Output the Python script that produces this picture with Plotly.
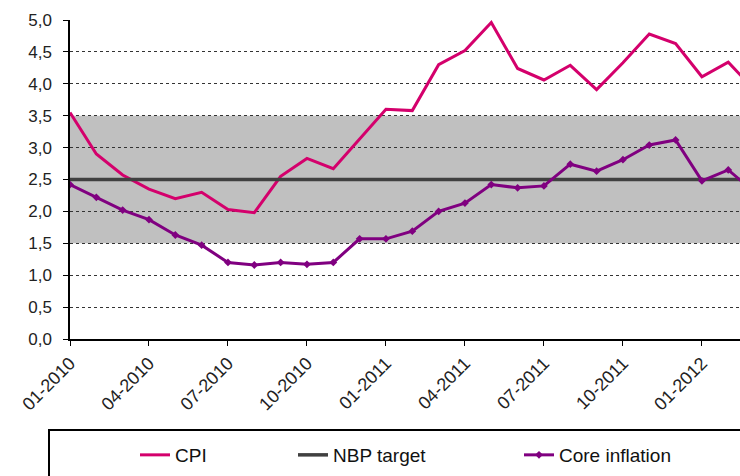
import plotly.graph_objects as go

months = ["01-2010", "02-2010", "03-2010", "04-2010", "05-2010", "06-2010",
          "07-2010", "08-2010", "09-2010", "10-2010", "11-2010", "12-2010",
          "01-2011", "02-2011", "03-2011", "04-2011", "05-2011", "06-2011",
          "07-2011", "08-2011", "09-2011", "10-2011", "11-2011", "12-2011",
          "01-2012", "02-2012", "03-2012"]
cpi = [3.55, 2.9, 2.57, 2.35, 2.2, 2.3, 2.03, 1.98, 2.55, 2.83, 2.67, 3.13,
       3.6, 3.58, 4.3, 4.52, 4.96, 4.24, 4.06, 4.29, 3.91, 4.33, 4.78, 4.63,
       4.11, 4.34, 3.9]
core = [2.42, 2.22, 2.02, 1.87, 1.63, 1.47, 1.2, 1.16, 1.2, 1.17, 1.2, 1.57,
        1.57, 1.69, 2.0, 2.13, 2.42, 2.37, 2.4, 2.74, 2.63, 2.81, 3.04, 3.12,
        2.48, 2.65, 2.3]
nbp_target = 2.5
band_low, band_high = 1.5, 3.5
tick_labels = ["01-2010", "04-2010", "07-2010", "10-2010", "01-2011",
               "04-2011", "07-2011", "10-2011", "01-2012"]
y_ticks = [0, 0.5, 1.0, 1.5, 2.0, 2.5, 3.0, 3.5, 4.0, 4.5, 5.0]
y_tick_text = [f"{v:.1f}".replace(".", ",") for v in y_ticks]

FONT = "Liberation Sans, Arial, sans-serif"

fig = go.Figure()
fig.add_trace(go.Scatter(x=months, y=cpi, mode="lines", name="CPI",
                         line=dict(color="#D4006C", width=3), legend="legend"))
fig.add_trace(go.Scatter(x=months, y=[nbp_target] * len(months), mode="lines",
                         name="NBP target", line=dict(color="#404040", width=3.5),
                         legend="legend2"))
fig.add_trace(go.Scatter(x=months, y=core, mode="lines+markers", name="Core inflation",
                         line=dict(color="#800080", width=3),
                         marker=dict(symbol="diamond", size=6, color="#800080"),
                         legend="legend3"))

fig.add_shape(type="rect", xref="paper", yref="y", x0=0, x1=1,
              y0=band_low, y1=band_high, fillcolor="#C0C0C0",
              line=dict(width=0), layer="below")

# legend frame
fig.add_shape(type="rect", xref="paper", yref="paper",
              x0=(49 - 70) / 670, x1=1.05, y0=(339 - 500) / 319, y1=(339 - 430) / 319,
              line=dict(color="black", width=2), fillcolor="rgba(0,0,0,0)")

leg_common = dict(orientation="h", yanchor="middle", xanchor="left",
                  bgcolor="rgba(0,0,0,0)", borderwidth=0,
                  font=dict(family=FONT, size=19, color="#111"))
ly = (339 - 455) / 319
fig.update_layout(
    legend=dict(x=(135 - 70) / 670, y=ly, **leg_common),
    legend2=dict(x=(293 - 70) / 670, y=ly, **leg_common),
    legend3=dict(x=(519 - 70) / 670, y=ly, **leg_common),
)

fig.update_xaxes(type="category", range=[0, 670 / 26.33],
                 tickmode="array", tickvals=tick_labels, ticktext=tick_labels,
                 tickangle=-45, ticks="outside", ticklen=5, tickcolor="black",
                 showline=True, linecolor="black", linewidth=1.5,
                 showgrid=False, zeroline=False, automargin=False,
                 tickfont=dict(family=FONT, size=18, color="#222"))
fig.update_yaxes(range=[0, 5], tickmode="array", tickvals=y_ticks, ticktext=y_tick_text,
                 ticks="outside", ticklen=5, tickcolor="black", ticklabelstandoff=8,
                 showline=True, linecolor="black", linewidth=1.5,
                 showgrid=True, gridcolor="#333333", griddash="dot", gridwidth=1,
                 zeroline=False, automargin=False,
                 tickfont=dict(family=FONT, size=17, color="#222"))

fig.update_layout(width=740, height=476, paper_bgcolor="white", plot_bgcolor="white",
                  margin=dict(l=70, r=0, t=20, b=137, autoexpand=False), showlegend=True)

fig.write_html("out.html", config={"displayModeBar": False},
               post_script="document.body.style.margin='0';")
